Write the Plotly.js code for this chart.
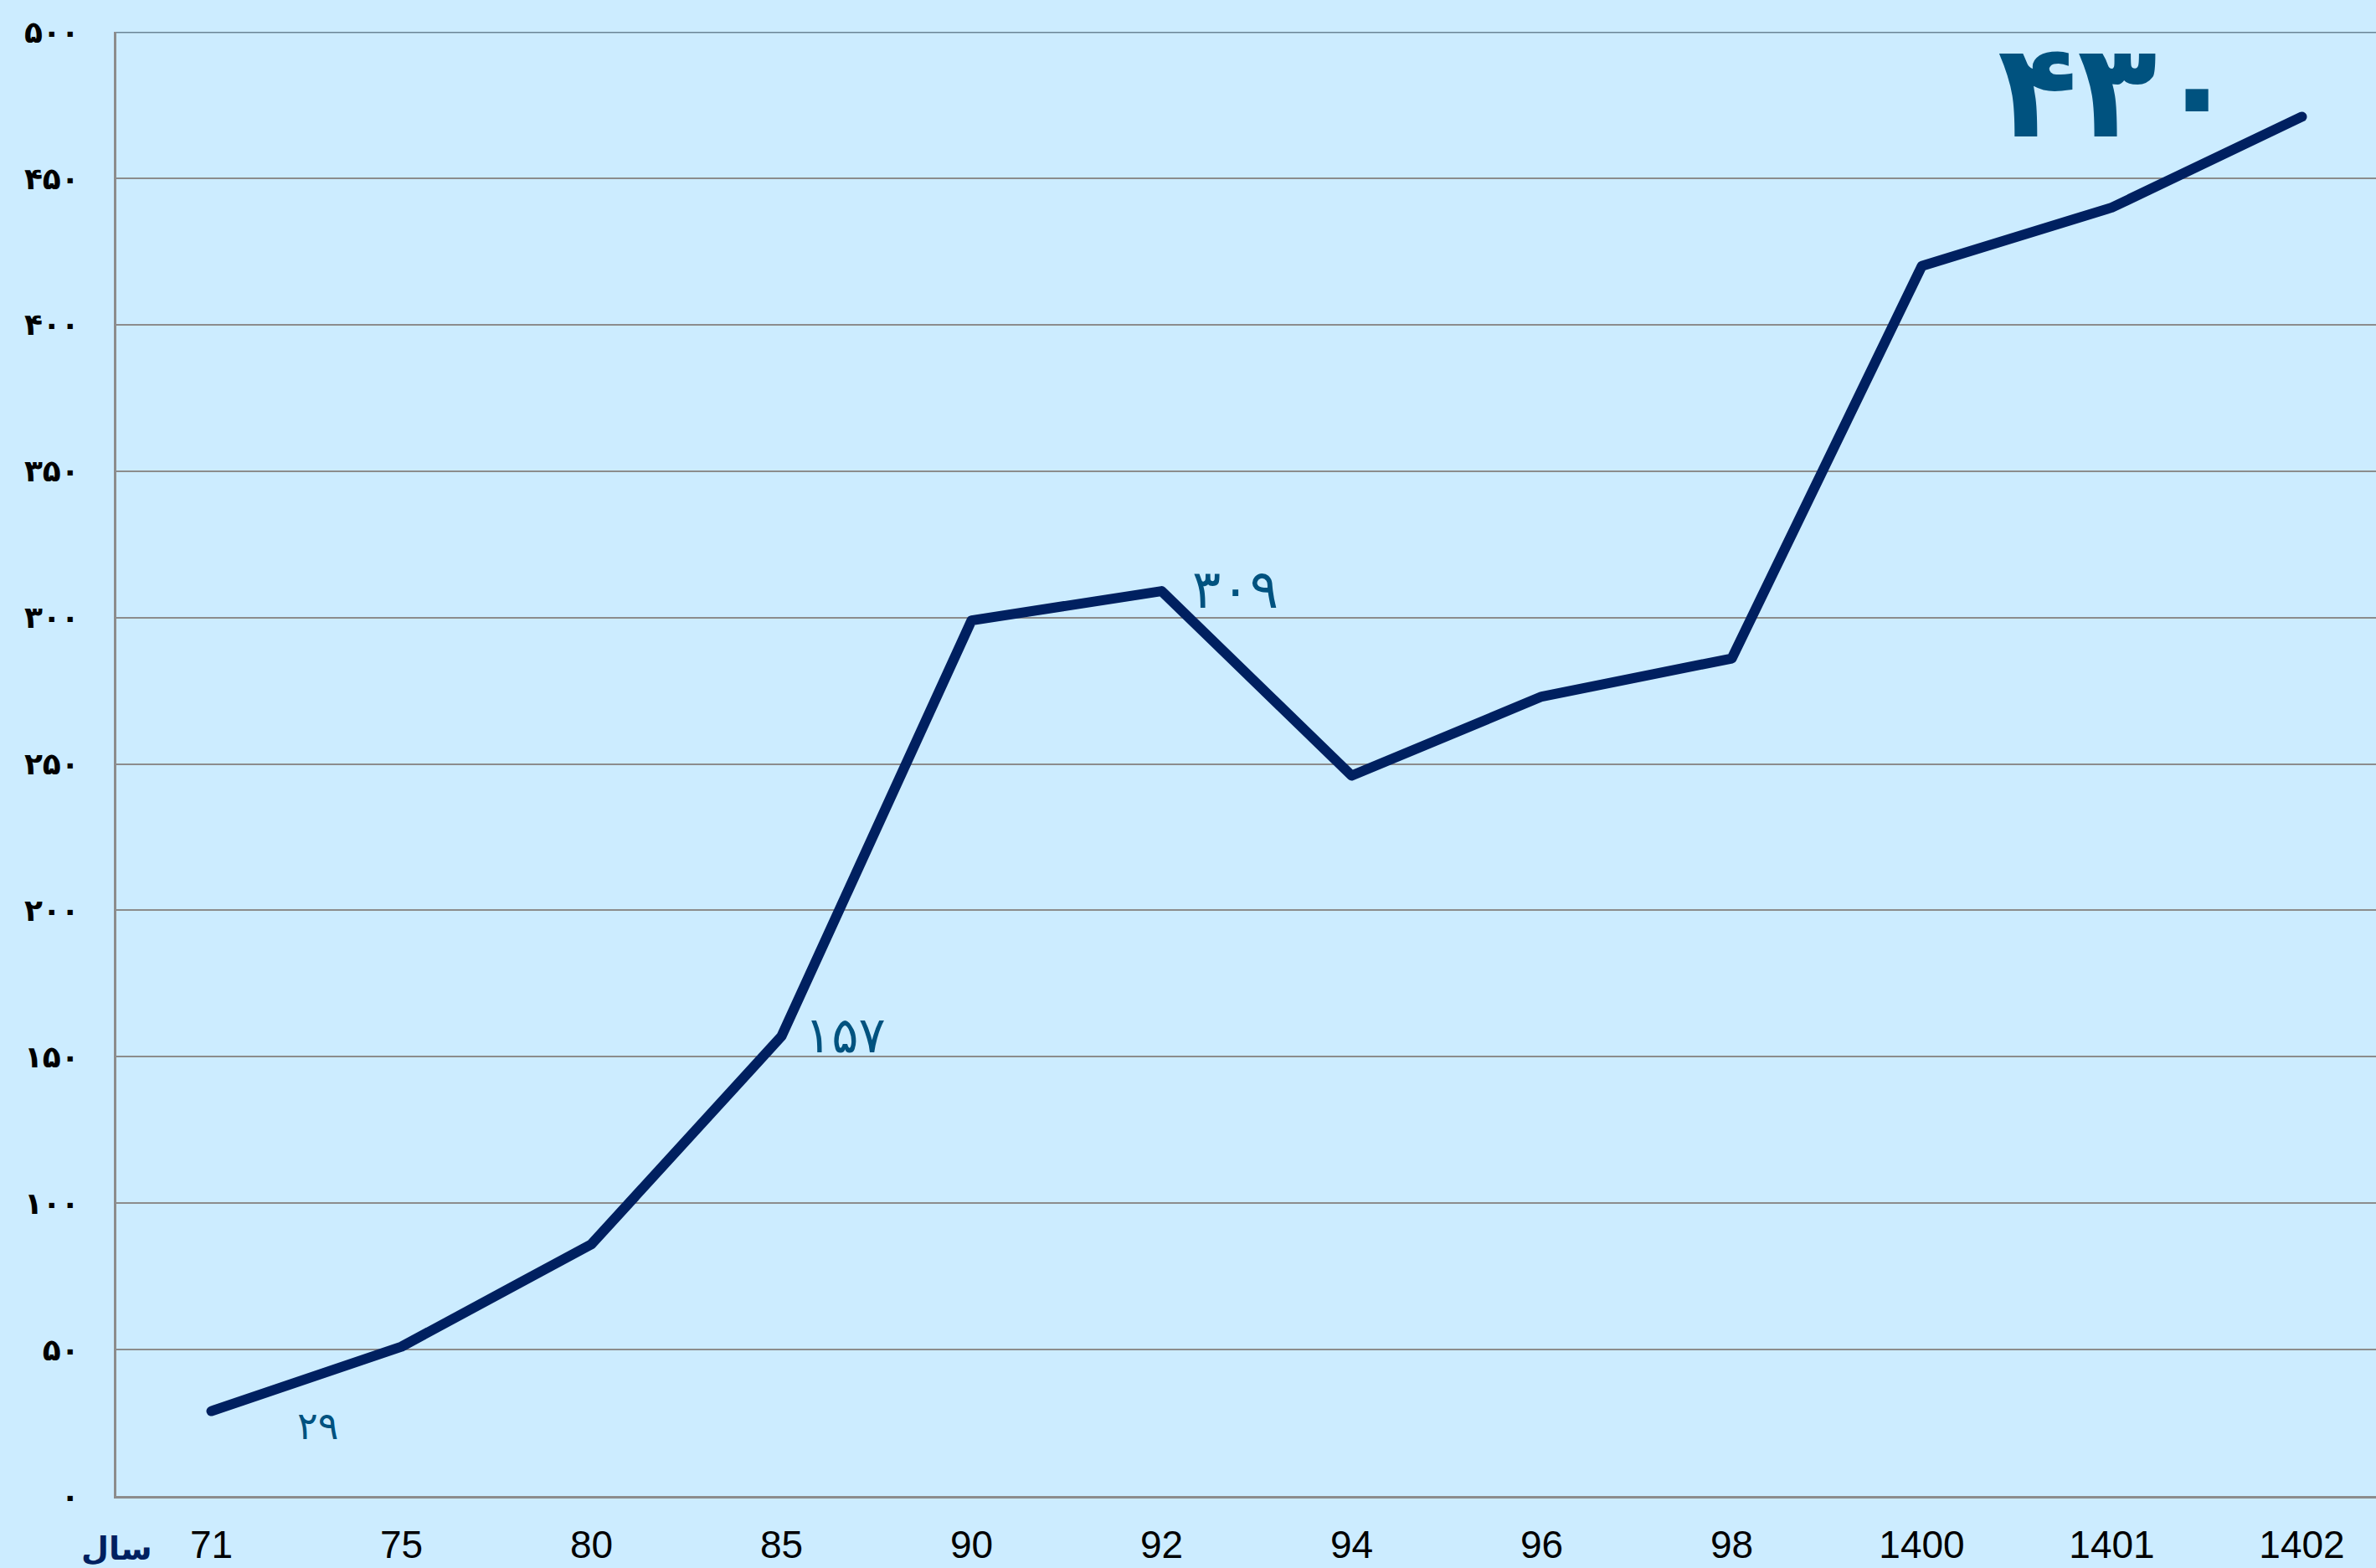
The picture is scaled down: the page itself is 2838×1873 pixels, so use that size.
<!DOCTYPE html>
<html>
<head>
<meta charset="utf-8">
<script src="https://cdn.plot.ly/plotly-3.0.1.min.js"></script>
<style>
  html, body { margin: 0; padding: 0; background: #CCECFF; }
  #chart { width: 2838px; height: 1873px; }
  .scatterlayer path.js-line { stroke-linecap: round !important; stroke-linejoin: round !important; }
</style>
</head>
<body>
<div id="chart"></div>
<script>
// Years (Iranian calendar)
const years = ['71', '75', '80', '85', '90', '92', '94', '96', '98', '1400', '1401', '1402'];
// Series values
const values = [29, 51, 86, 157, 299, 309, 246, 273, 286, 420, 440, 471];
// Y axis ticks
const yTickVals = [0, 50, 100, 150, 200, 250, 300, 350, 400, 450, 500];
const yTickLabels = ['۰', '۵۰', '۱۰۰', '۱۵۰', '۲۰۰', '۲۵۰', '۳۰۰', '۳۵۰', '۴۰۰', '۴۵۰', '۵۰۰'];
// Data labels shown on the chart
const labelYears = ['71', '85', '92', '1402'];
const labelTexts = ['۲۹', '۱۵۷', '۳۰۹', '۴۳۰'];
const xAxisName = 'سال';

const labelStyles = [
  {xshift: 127, yshift: -17, size: 46, bold: false},
  {xshift: 76, yshift: 2, size: 60, bold: false},
  {xshift: 88, yshift: 2, size: 64, bold: false},
  {xshift: -220, yshift: 30, size: 156, bold: true}
];

const annotations = labelYears.map((y, i) => {
  const idx = years.indexOf(y);
  return {
    x: idx, y: values[idx], xref: 'x', yref: 'y',
    text: labelStyles[i].bold ? '<b>' + labelTexts[i] + '</b>' : labelTexts[i],
    showarrow: false,
    xshift: labelStyles[i].xshift, yshift: labelStyles[i].yshift,
    xanchor: 'center', yanchor: 'middle',
    font: {family: 'DejaVu Sans', size: labelStyles[i].size, color: '#00527F'}
  };
});
annotations.push({
  x: 0, y: -0.036, xref: 'paper', yref: 'paper',
  text: '<b>' + xAxisName + '</b>', showarrow: false,
  xanchor: 'center', yanchor: 'middle',
  font: {family: 'DejaVu Sans', size: 38, color: '#002060'}
});

const trace = {
  x: years, y: values, type: 'scatter', mode: 'lines',
  line: {color: '#002060', width: 12, shape: 'linear'},
  hoverinfo: 'skip'
};

const layout = {
  width: 2838, height: 1873,
  margin: {l: 139, r: 0, t: 38, b: 86, pad: 0},
  paper_bgcolor: '#CCECFF', plot_bgcolor: '#CCECFF',
  showlegend: false,
  xaxis: {
    type: 'category', range: [-0.5, 11.39],
    showgrid: false, zeroline: false,
    showline: true, linecolor: '#8C8C8C', linewidth: 3,
    ticks: '', ticklabelstandoff: 16,
    tickfont: {family: 'Liberation Sans, Arial, sans-serif', size: 46, color: '#000000'},
    fixedrange: true
  },
  yaxis: {
    range: [0, 500], tickmode: 'array', tickvals: yTickVals, ticktext: yTickLabels,
    showgrid: true, gridcolor: '#8C8C8C', gridwidth: 2,
    zeroline: false, showline: true, linecolor: '#8C8C8C', linewidth: 3,
    ticks: '', ticklabelstandoff: 34,
    tickfont: {family: 'DejaVu Sans', size: 36, color: '#000000', weight: 'bold'},
    fixedrange: true
  },
  shapes: [{
    type: 'line', xref: 'paper', yref: 'y', x0: 0, x1: 1, y0: 500, y1: 500,
    line: {color: '#6A8596', width: 3}
  }],
  annotations: annotations
};

Plotly.newPlot('chart', [trace], layout, {staticPlot: true, displayModeBar: false});
</script>
</body>
</html>
